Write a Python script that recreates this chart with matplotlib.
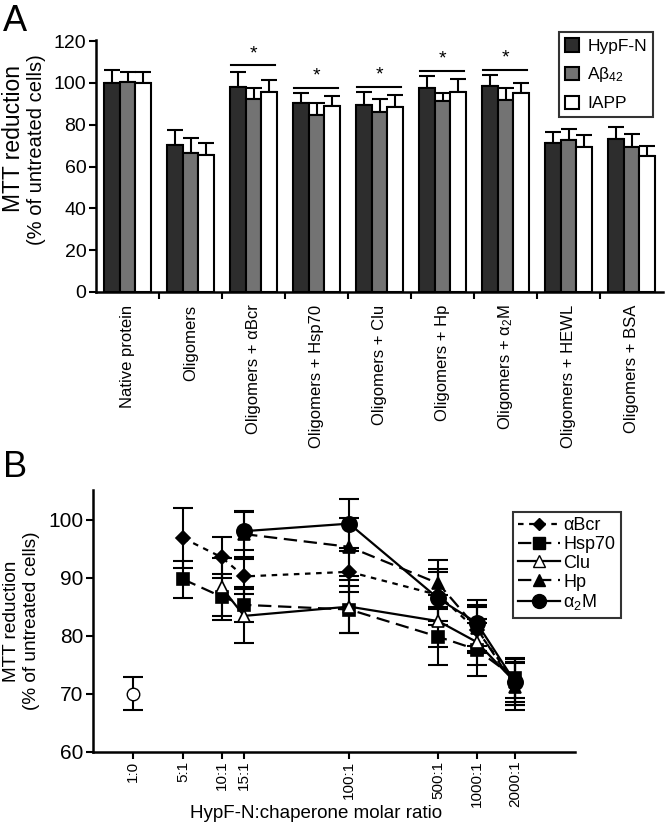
# MTT reduction: bar panel (A) and chaperone ratio panel (B)

import numpy as np
import matplotlib.pyplot as plt
from matplotlib.patches import Patch
from matplotlib.lines import Line2D

plt.rcParams['font.family'] = ['Liberation Sans', 'DejaVu Sans']
plt.rcParams['mathtext.default'] = 'regular'

# ---- panel A data ----
groups = ['Native protein', 'Oligomers', 'Oligomers + \u03b1Bcr', 'Oligomers + Hsp70',
          'Oligomers + Clu', 'Oligomers + Hp', 'Oligomers + \u03b1$_2$M',
          'Oligomers + HEWL', 'Oligomers + BSA']
hypf = [100, 70.3, 97.8, 90.3, 89.5, 97.5, 98.6, 71.4, 73.1]
hypf_err = [6, 7, 7.6, 4.8, 6.3, 5.8, 5.2, 5.3, 5.7]
abeta = [100.3, 66.4, 92.2, 84.5, 86.3, 91.5, 91.9, 72.7, 69.5]
abeta_err = [5, 7.4, 5.3, 5.7, 6, 3.5, 5.6, 5.1, 6]
iapp = [100, 65.4, 95.8, 88.7, 88.4, 95.8, 95.1, 69.2, 65.2]
iapp_err = [5, 6, 5.6, 4.8, 5.9, 6, 5, 5.9, 4.8]
sig_groups = [2, 3, 4, 5, 6]
sig_y = [108.3, 97.5, 98.2, 105.9, 106.2]

# ---- panel B data ----
ratio_labels = ['1:0', '5:1', '10:1', '15:1', '100:1', '500:1', '1000:1', '2000:1']
ratio_pos = [2, 5, 10, 15, 100, 500, 1000, 2000]
ctrl_x, ctrl_y, ctrl_err = 2, 70.0, 2.8

abcr_x = [5, 10, 15, 100, 500, 1000, 2000]
abcr_y = [96.8, 93.5, 90.2, 91.0, 87.0, 81.0, 72.0]
abcr_e = [5.2, 3.5, 3.0, 3.5, 4.5, 4.0, 3.5]
hsp_x = [5, 10, 15, 100, 500, 1000, 2000]
hsp_y = [89.7, 86.7, 85.3, 84.5, 79.8, 77.6, 72.7]
hsp_e = [3.2, 4.0, 3.0, 4.0, 4.8, 4.6, 3.5]
clu_x = [10, 15, 100, 500, 1000, 2000]
clu_y = [88.3, 83.4, 85.0, 82.5, 78.9, 72.0]
clu_e = [5.0, 4.7, 4.5, 4.5, 4.0, 4.0]
hp_x = [15, 100, 500, 1000, 2000]
hp_y = [97.5, 95.3, 89.0, 81.3, 71.2]
hp_e = [4.0, 5.0, 4.0, 4.0, 4.0]
a2m_x = [15, 100, 500, 1000, 2000]
a2m_y = [98.0, 99.3, 86.4, 82.2, 72.0]
a2m_e = [3.3, 4.2, 4.5, 4.0, 4.0]

fig = plt.figure(figsize=(6.7, 8.26), dpi=100)

# ================= A =================
ax = fig.add_axes([0.1433, 0.6465, 0.8463, 0.3051])
x = np.arange(len(groups))
w = 0.25
cols = ['#2d2d2d', '#737373', 'white']
for i, (vals, errs, c) in enumerate([(hypf, hypf_err, cols[0]), (abeta, abeta_err, cols[1]),
                                      (iapp, iapp_err, cols[2])]):
    ax.bar(x + (i - 1) * w, vals, w, color=c, edgecolor='black', linewidth=1.5, zorder=2)
    ax.errorbar(x + (i - 1) * w, vals, yerr=[np.zeros(len(vals)), errs], fmt='none',
                ecolor='black', elinewidth=1.5, capsize=6, capthick=1.5, zorder=1)
for g, yy in zip(sig_groups, sig_y):
    ax.plot([g - 1.45 * w, g + 1.35 * w], [yy, yy], color='black', lw=1.5)
    ax.text(g, yy + 1.5, '*', ha='center', va='bottom', fontsize=14)

ax.set_xlim(-0.5, len(groups) - 0.5)
ax.set_ylim(0, 120.5)
ax.set_yticks(range(0, 121, 20))
ax.set_xticks(x)
ax.set_xticklabels(groups, rotation=90, fontsize=12)
ax.set_xticks(np.arange(0.5, len(groups) - 0.5, 1), minor=True)
ax.tick_params(axis='x', which='major', length=0, pad=9)
ax.tick_params(axis='x', which='minor', length=5, width=1.5, direction='out')
ax.tick_params(axis='y', length=5, width=1.5, labelsize=14, pad=2)
for s in ['top', 'right']:
    ax.spines[s].set_visible(False)
for s in ['left', 'bottom']:
    ax.spines[s].set_linewidth(1.8)
fig.text(14 / 670, 1 - 138 / 826, 'MTT reduction', rotation=90, fontsize=16.5,
         ha='center', va='center')
fig.text(37 / 670, 1 - 150 / 826, '(% of untreated cells)', rotation=90, fontsize=14.5,
         ha='center', va='center')

handles = [Patch(facecolor=c, edgecolor='black', linewidth=1.5) for c in cols]
leg = ax.legend(handles, ['HypF-N', 'A\u03b2$_{42}$', 'IAPP'], loc='upper right',
                bbox_to_anchor=(0.9825, 1.03), fontsize=12.5, frameon=True, fancybox=False,
                handlelength=0.8, handleheight=0.8, handletextpad=0.5, borderpad=0.35,
                labelspacing=0.65, borderaxespad=0)
leg.get_frame().set_edgecolor('black')
leg.get_frame().set_linewidth(1.5)

fig.text(0.005, 0.995, 'A', fontsize=26, va='top', ha='left')

# ================= B =================
bx = fig.add_axes([0.1388, 0.09, 0.7194, 0.3168])
bx.set_xscale('log')

series = [
    (abcr_x, abcr_y, abcr_e, 'D', 'black', (0, (2.5, 2.5)), '\u03b1Bcr', 7),
    (hsp_x, hsp_y, hsp_e, 's', 'black', (0, (6, 3)), 'Hsp70', 9),
    (clu_x, clu_y, clu_e, '^', 'white', '-', 'Clu', 9),
    (hp_x, hp_y, hp_e, '^', 'black', (0, (6, 3)), 'Hp', 9),
    (a2m_x, a2m_y, a2m_e, 'o', 'black', '-', '\u03b1$_2$M', 11),
]
leg_handles = []
for xs, ys, es, m, fc, ls, lab, ms in series:
    bx.errorbar(xs, ys, yerr=es, fmt='none', ecolor='black', elinewidth=1.5,
                capsize=7, capthick=1.5, zorder=2)
    bx.plot(xs, ys, linestyle=ls, color='black', lw=1.6, marker=m, markersize=ms,
            markerfacecolor=fc, markeredgecolor='black', markeredgewidth=1.2, zorder=3)
    leg_handles.append(Line2D([], [], linestyle=ls, color='black', lw=1.6, marker=m,
                              markersize=ms - 1, markerfacecolor=fc,
                              markeredgecolor='black'))
bx.errorbar([ctrl_x], [ctrl_y], yerr=[ctrl_err], fmt='o', color='black', markersize=9,
            markerfacecolor='white', markeredgecolor='black', elinewidth=1.5,
            capsize=7, capthick=1.5, zorder=3)

bx.set_xlim(0.98, 5900)
bx.set_ylim(60, 105.1)
bx.set_yticks([60, 70, 80, 90, 100])
bx.set_xticks(ratio_pos)
bx.set_xticklabels(ratio_labels, rotation=90, fontsize=11)
bx.xaxis.set_minor_locator(plt.NullLocator())
bx.tick_params(axis='x', length=5, width=1.5, pad=1.5)
bx.tick_params(axis='y', length=5, width=1.5, labelsize=15, pad=2)
for s in ['top', 'right']:
    bx.spines[s].set_visible(False)
for s in ['left', 'bottom']:
    bx.spines[s].set_linewidth(1.8)
bx.set_ylabel('MTT reduction\n(% of untreated cells)', fontsize=13.7, labelpad=6)
bx.set_xlabel('HypF-N:chaperone molar ratio', fontsize=13.5)
bx.xaxis.set_label_coords(0.463, -0.205)

leg2 = bx.legend(leg_handles, [s[6] for s in series], loc='upper left',
                 bbox_to_anchor=(0.871, 0.917), fontsize=13, frameon=True, fancybox=False,
                 handlelength=2.3, handletextpad=0.2, borderpad=0.3, labelspacing=0.1,
                 borderaxespad=0)
leg2.get_frame().set_edgecolor('black')
leg2.get_frame().set_linewidth(1.5)

fig.text(0.005, 0.455, 'B', fontsize=26, va='top', ha='left')

fig.savefig('out.png', dpi=100)
